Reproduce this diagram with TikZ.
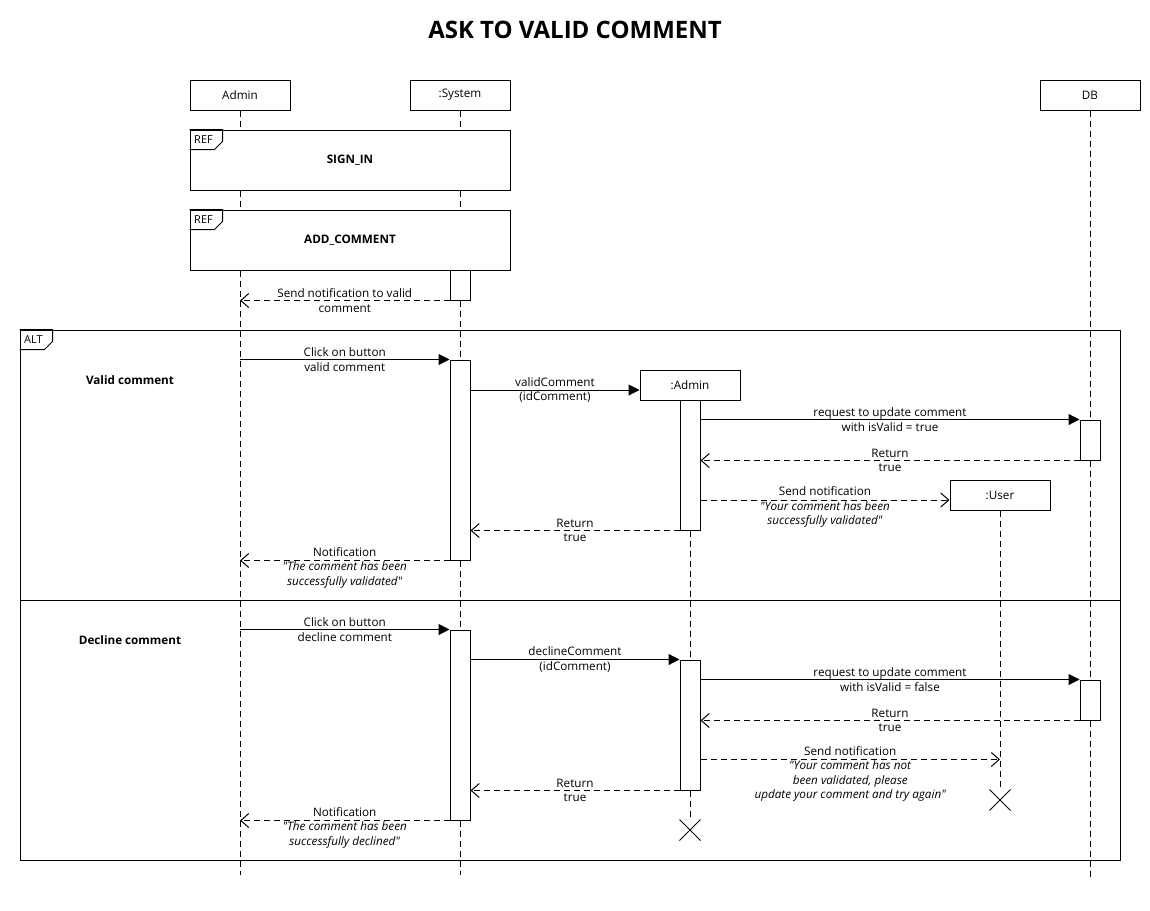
\documentclass[tikz,border=0pt]{standalone}
\usepackage{fontspec}
\setmainfont{Open Sans}[Ligatures=TeXOff]
\usetikzlibrary{arrows.meta,shapes.misc}

\begin{document}
\begin{tikzpicture}[x=1pt,y=-1pt,line width=1pt,
  font=\fontsize{11.7}{14.5}\selectfont,
  head/.style={draw,fill=white,minimum width=100pt,minimum height=30pt,inner sep=0pt},
  act/.style={draw,fill=white,minimum width=20pt,inner sep=0pt},
  refbox/.style={draw,fill=white,minimum width=320pt,minimum height=60pt,font=\fontsize{11.7}{14.5}\selectfont\bfseries},
  tag/.style={font=\fontsize{11}{12}\selectfont,inner sep=0pt},
  life/.style={dash pattern=on 6pt off 4pt},
  msg/.style={-{Triangle[length=11pt,width=11pt]}},
  ret/.style={dash pattern=on 6pt off 4pt,-{Straight Barb[length=8pt,width=14pt]}},
  lbl/.style={midway,align=center,inner sep=0pt},
  kill/.style={draw,cross out,minimum size=20pt,inner sep=0pt}]
\useasboundingbox (0,0) rectangle (1150,910);
\node[font=\fontsize{24}{28}\selectfont\bfseries] (title) at (575,30) {ASK TO VALID COMMENT};

\node[head] (admin) at (240,95) {Admin};
\node[head] (sys) at (460,95) {:System};
\node[head] (db) at (1090,95) {DB};
\node[head] (adm2) at (690,385) {:Admin};
\node[head] (usr) at (1000,495) {:User};
\node[kill] (xa) at (690,830) {};
\node[kill] (xu) at (1000,800) {};
\coordinate (bot) at (0,875);
\coordinate (dbbot) at (0,880);
\draw[life] (admin.south) -- (admin |- bot);
\draw[life] (sys.south) -- (sys |- bot);
\draw[life] (db.south) -- (db |- dbbot);
\draw[life] (adm2.south) -- (xa.north);
\draw[life] (usr.south) -- (xu.north);

\node[refbox] (ref1) at (350,160) {SIGN\_IN};
\node[refbox] (ref2) at (350,240) {ADD\_COMMENT};
\node[draw,minimum width=1100pt,minimum height=530pt,inner sep=0pt] (alt) at (570,595) {};
\foreach \f/\t in {ref1/REF,ref2/REF,alt/ALT}{
  \draw (\f.north west) -- ++(33,0) -- ++(0,12) -- ++(-8,8) -- ++(-25,0);
  \node[tag] (\f tag) at ([xshift=14pt,yshift=-10pt]\f.north west) {\t};
}
\draw ([yshift=-5pt]alt.west) -- ([yshift=-5pt]alt.east);
\node[font=\fontsize{11.7}{14.5}\selectfont\bfseries] (valid) at (130,380) {Valid comment};
\node[font=\fontsize{11.7}{14.5}\selectfont\bfseries] (decline) at (130,640) {Decline comment};

\node[act,minimum height=30pt] (sa0) at (460,285) {};
\node[act,minimum height=200pt] (sa1) at (460,460) {};
\node[act,minimum height=130pt] (aa1) at (690,465) {};
\node[act,minimum height=40pt] (da1) at (1090,440) {};
\node[act,minimum height=190pt] (sa2) at (460,725) {};
\node[act,minimum height=130pt] (aa2) at (690,725) {};
\node[act,minimum height=40pt] (da2) at (1090,700) {};

\draw[ret] (sa0.south west) -- (sa0.south west -| admin) node[lbl] {Send notification to valid\\comment};

\draw[msg] (sa1.north west -| admin) -- (sa1.north west) node[lbl] {Click on button\\valid comment};
\draw[msg] ([yshift=-5pt]adm2.west -| sa1.east) -- ([yshift=-5pt]adm2.west) node[lbl] {validComment\\(idComment)};
\draw[msg] ([yshift=-20pt]aa1.north east) -- ([yshift=-20pt]aa1.north east -| da1.west) node[lbl] {request to update comment\\with isValid = true};
\draw[ret] (da1.south west) -- (da1.south west -| aa1.east) node[lbl] {Return\\true};
\draw[ret] ([yshift=-5pt]usr.west -| aa1.east) -- ([yshift=-5pt]usr.west) node[lbl,yshift=-7pt] {Send notification\\\textit{"Your comment has been}\\\textit{successfully validated"}};
\draw[ret] (aa1.south west) -- (aa1.south west -| sa1.east) node[lbl] {Return\\true};
\draw[ret] (sa1.south west) -- (sa1.south west -| admin) node[lbl,yshift=-7pt] {Notification\\\textit{"The comment has been}\\\textit{successfully validated"}};

\draw[msg] (sa2.north west -| admin) -- (sa2.north west) node[lbl] {Click on button\\decline comment};
\draw[msg] (aa2.north west -| sa2.east) -- (aa2.north west) node[lbl] {declineComment\\(idComment)};
\draw[msg] ([yshift=-20pt]aa2.north east) -- ([yshift=-20pt]aa2.north east -| da2.west) node[lbl] {request to update comment\\with isValid = false};
\draw[ret] (da2.south west) -- (da2.south west -| aa2.east) node[lbl] {Return\\true};
\draw[ret] ([yshift=-100pt]aa2.north east) -- ([yshift=-100pt]aa2.north east -| usr) node[lbl,yshift=-14.5pt] {Send notification\\\textit{"Your comment has not}\\\textit{been validated, please}\\\textit{update your comment and try again"}};
\draw[ret] (aa2.south west) -- (aa2.south west -| sa2.east) node[lbl] {Return\\true};
\draw[ret] (sa2.south west) -- (sa2.south west -| admin) node[lbl,yshift=-7pt] {Notification\\\textit{"The comment has been}\\\textit{successfully declined"}};
\end{tikzpicture}
\end{document}
